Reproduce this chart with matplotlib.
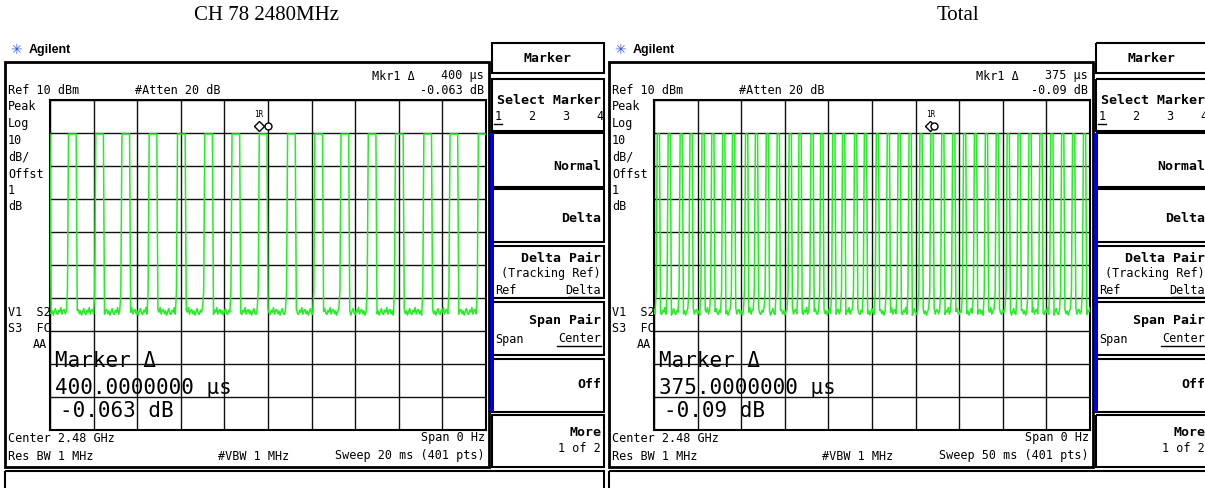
import numpy as np
import matplotlib.pyplot as plt
from matplotlib.patches import Rectangle

left_starts_ms = [-0.38, 0.83, 2.06, 3.30, 4.54, 5.83, 7.06, 8.35, 9.59, 10.87,
                  12.11, 13.35, 14.59, 15.83, 17.11, 18.35, 19.63]
right_starts_ms = [0.34, 1.59, 2.96, 4.10, 5.47, 6.60, 7.86, 9.00, 10.48, 11.60,
                   12.87, 14.10, 15.40, 16.60, 17.90, 19.10, 20.40, 21.60, 22.90,
                   24.10, 25.40, 26.65, 27.90, 29.20, 30.40, 31.70, 32.90, 34.20,
                   35.40, 36.70, 37.90, 39.20, 40.40, 41.70, 42.90, 44.20, 45.40,
                   46.70, 47.90, 49.20]
left_width_ms = 0.40
right_width_ms = 0.375
high_dbm = -0.3
floor_ripple_dbm = [-53.5, -54.8, -53.9, -55.2, -54.1, -53.2, -54.6, -55.0,
                    -53.7, -54.3, -52.9, -54.9, -53.8]
pre_edge_dbm = -48.0

titles = ["CH 78 2480MHz", "Total"]
sweeps_ms = [20, 50]
mkr_delta = ["400 μs", "375 μs"]
mkr_db = ["-0.063 dB", "-0.09 dB"]
mkr_big_time = ["400.0000000 μs", "375.0000000 μs"]
mkr_ref_ms = [9.59, 31.70]
mkr_width_ms = [0.400, 0.375]

MONO = "DejaVu Sans Mono"
GREEN = "#22ee22"


def make_trace(starts, width, sweep):
    t = np.linspace(0, sweep, 401)
    y = []
    for i, ti in enumerate(t):
        if any(s <= ti < s + width for s in starts):
            y.append(high_dbm)
        elif i + 1 < len(t) and any(s <= t[i + 1] < s + width for s in starts):
            y.append(pre_edge_dbm)
        else:
            y.append(floor_ripple_dbm[i % len(floor_ripple_dbm)])
    return t, np.array(y)


fig = plt.figure(figsize=(12.05, 4.88), dpi=100)
bg = fig.add_axes([0, 0, 1, 1])
bg.set_xlim(0, 1205)
bg.set_ylim(488, 0)
bg.axis("off")

W, H = 1205, 488


def txt(x, y, s, size=8.5, ha="left", weight="normal", family=MONO, **kw):
    bg.text(x, y, s, fontsize=size, ha=ha, va="center", fontweight=weight,
            family=family, **kw)


def box(x0, y0, x1, y1, lw=1.5, **kw):
    bg.add_patch(Rectangle((x0, y0), x1 - x0, y1 - y0, fill=False,
                           lw=lw, ec="black", **kw))


traces = [make_trace(left_starts_ms, left_width_ms, 20),
          make_trace(right_starts_ms, right_width_ms, 50)]
title_x = [267, 958]

for k in range(2):
    dx = 604 * k
    # title above the screen
    txt(title_x[k], 15, titles[k], size=15, ha="center", family="Liberation Serif")
    # Agilent logo
    bg.text(16 + dx, 50, "✳", fontsize=10, color="#3355dd", ha="center",
            va="center", family="DejaVu Sans")
    txt(29 + dx, 50, "Agilent", size=9, weight="bold", family="Liberation Sans")

    # screen frame
    box(5 + dx, 62, 489 + dx, 467, lw=2)
    box(5 + dx, 471, 604 + dx, 492, lw=1.5)

    txt(8 + dx, 91, "Ref 10 dBm")
    txt(135 + dx, 91, "#Atten 20 dB")
    txt(372 + dx, 76, "Mkr1 Δ")
    txt(484 + dx, 76, mkr_delta[k], ha="right")
    txt(484 + dx, 91, mkr_db[k], ha="right")
    for lab, yy in zip(["Peak", "Log", "10", "dB/", "Offst", "1", "dB"],
                       [107, 124, 140, 157, 174, 190, 206]):
        txt(8 + dx, yy, lab)
    txt(8 + dx, 312, "V1  S2")
    txt(8 + dx, 328, "S3  FC")
    txt(47 + dx, 344, "AA", ha="right")

    txt(8 + dx, 438, "Center 2.48 GHz")
    txt(485 + dx, 438, "Span 0 Hz", ha="right")
    txt(8 + dx, 456, "Res BW 1 MHz")
    txt(218 + dx, 456, "#VBW 1 MHz")
    txt(485 + dx, 456, "Sweep %d ms (401 pts)" % sweeps_ms[k], ha="right")

    # softkeys
    kx0, kx1 = 492 + dx, 604 + dx
    box(kx0, 43, kx1, 73)
    txt((kx0 + kx1) / 2, 58, "Marker", size=9.5, ha="center", weight="bold")
    keys = [(79, 131), (133, 187), (189, 242), (246, 298), (302, 355),
            (359, 412), (415, 467)]
    for y0, y1 in keys:
        box(kx0, y0, kx1, y1)
    bg.add_patch(Rectangle((kx0 - 2, 133), 4, 279, color="#0000dd", lw=0))
    rx = kx1 - 3
    txt(rx, 100, "Select Marker", size=9.5, ha="right", weight="bold")
    for n, xx in zip("1234", [498, 532, 566, 600]):
        txt(xx + dx, 117, n, ha="center")
    bg.plot([494 + dx, 502 + dx], [124, 124], color="black", lw=1)
    txt(rx, 166, "Normal", size=9.5, ha="right", weight="bold")
    txt(rx, 219, "Delta", size=9.5, ha="right", weight="bold")
    txt(rx, 258, "Delta Pair", size=9.5, ha="right", weight="bold")
    txt(rx, 274, "(Tracking Ref)", ha="right")
    txt(495 + dx, 290, "Ref")
    txt(rx, 290, "Delta", ha="right")
    bg.plot([568 + dx, rx], [297, 297], color="black", lw=1)
    txt(rx, 320, "Span Pair", size=9.5, ha="right", weight="bold")
    txt(495 + dx, 339, "Span")
    txt(rx, 339, "Center", ha="right")
    bg.plot([557 + dx, rx], [346, 346], color="black", lw=1)
    txt(rx, 384, "Off", size=9.5, ha="right", weight="bold")
    txt(rx, 432, "More", size=9.5, ha="right", weight="bold")
    txt(rx, 449, "1 of 2", ha="right")

    # graticule with trace
    gx0, gx1, gy0, gy1 = 50 + dx, 486 + dx, 100, 430
    ax = fig.add_axes([gx0 / W, 1 - gy1 / H, (gx1 - gx0) / W, (gy1 - gy0) / H])
    ax.set_xlim(0, sweeps_ms[k])
    ax.set_ylim(-90, 10)
    ax.set_xticks(np.linspace(0, sweeps_ms[k], 11))
    ax.set_yticks(np.arange(-90, 11, 10))
    ax.tick_params(length=0, labelbottom=False, labelleft=False)
    ax.grid(True, color="#111111", lw=1)
    for sp in ax.spines.values():
        sp.set_linewidth(1.5)
    ax.set_facecolor("none")
    t, y = traces[k]
    ax.plot(t, y, color=GREEN, lw=1.1, zorder=3)
    ref = mkr_ref_ms[k]
    dlt = ref + mkr_width_ms[k]
    ax.plot([ref], [2.2], marker="D", ms=5, mfc="white", mec="black", mew=1,
            clip_on=False, zorder=4)
    ax.plot([dlt], [2.2], marker="o", ms=5, mfc="white", mec="black", mew=1,
            clip_on=False, zorder=4)
    ax.text(ref, 5.5, "1R", fontsize=5.5, ha="center", va="center", family=MONO)

    # big marker readout
    txt(55 + dx, 361, "Marker Δ", size=15)
    txt(55 + dx, 388, mkr_big_time[k], size=15)
    txt(60 + dx, 411, mkr_db[k], size=15)

plt.savefig("out.png", dpi=100)
